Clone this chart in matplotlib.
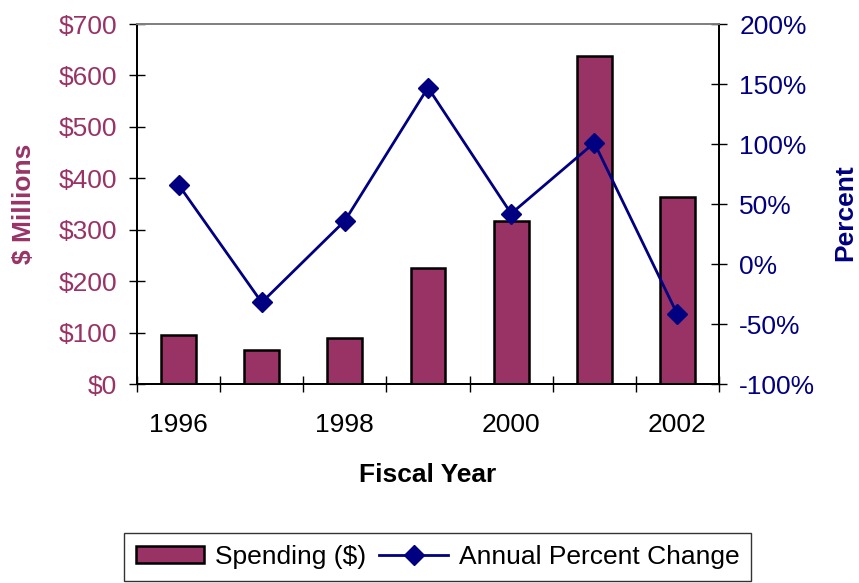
import matplotlib
matplotlib.use("Agg")
import matplotlib.pyplot as plt
from matplotlib.patches import Patch
from matplotlib.lines import Line2D
from matplotlib.ticker import FuncFormatter, FixedLocator

plt.rcParams['font.family'] = ['Liberation Sans', 'DejaVu Sans']
plt.rcParams['axes.unicode_minus'] = False

years = ["1996", "1997", "1998", "1999", "2000", "2001", "2002"]
spending = [95, 67, 90, 226, 317, 638, 364]
pct_change = [66, -32, 36, 147, 42, 101, -42]
left_ticks = [0, 100, 200, 300, 400, 500, 600, 700]
right_ticks = [-100, -50, 0, 50, 100, 150, 200]
xlabels_shown = ["1996", "1998", "2000", "2002"]

MAROON = "#993366"
NAVY = "#000080"
FS = 19

fig = plt.figure(figsize=(8.59, 5.83), dpi=100)
ax = fig.add_axes([137/859, 1 - 384/583, (719-137)/859, 360/583])
x = list(range(len(years)))
ax.bar(x, spending, width=0.42, color=MAROON, edgecolor="black", linewidth=1.8, zorder=2)
ax.set_xlim(-0.5, len(years) - 0.5)
ax.set_ylim(0, 700)
ax.set_yticks(left_ticks)
ax.yaxis.set_major_formatter(FuncFormatter(lambda v, p: f"${int(v)}"))
ax.tick_params(axis='y', direction='inout', length=11, width=1, pad=9,
               labelsize=FS, colors='black')
ax.tick_params(axis='y', labelcolor=MAROON)

# x ticks: labels at alternating categories, tick marks at category boundaries
shown_pos = [years.index(y) for y in xlabels_shown]
ax.set_xticks(shown_pos)
ax.set_xticklabels(xlabels_shown)
ax.tick_params(axis='x', which='major', length=0, pad=21, labelsize=FS)
ax.xaxis.set_minor_locator(FixedLocator([i - 0.5 for i in range(len(years) + 1)]))
ax.tick_params(axis='x', which='minor', direction='inout', length=11, width=1)

ax2 = ax.twinx()
ax2.plot(x, pct_change, color=NAVY, linewidth=2.0, marker='D', markersize=10.5,
         markerfacecolor=NAVY, markeredgecolor=NAVY, zorder=3)
ax2.set_ylim(-100, 200)
ax2.set_yticks(right_ticks)
ax2.yaxis.set_major_formatter(FuncFormatter(lambda v, p: f"{int(v)}%"))
ax2.tick_params(axis='y', direction='inout', length=11, width=1, pad=9,
                labelsize=FS, colors='black')
ax2.tick_params(axis='y', labelcolor=NAVY)

for a in (ax, ax2):
    a.spines['top'].set_color('#808080')
    a.spines['top'].set_linewidth(1.3)
    for s in ('left', 'right', 'bottom'):
        a.spines[s].set_linewidth(1.3)
        a.spines[s].set_color('black')

fig.text(24/859, 1 - 204/583, "$ Millions", rotation=90, ha='center', va='center',
         fontsize=FS, fontweight='bold', color=MAROON)
fig.text(845/859, 1 - 213/583, "Percent", rotation=90, ha='center', va='center',
         fontsize=FS, fontweight='bold', color=NAVY)
fig.text(428/859, 1 - 475/583, "Fiscal Year", ha='center', va='center',
         fontsize=FS, fontweight='bold', color='black')

handles = [Patch(facecolor=MAROON, edgecolor='black', linewidth=1.8),
           Line2D([0], [0], color=NAVY, linewidth=2.0, marker='D', markersize=10.5)]
leg = fig.legend(handles, ["Spending ($)", "Annual Percent Change"], ncol=2,
                 loc='upper left', bbox_to_anchor=(124/859, 1 - 533/583),
                 borderaxespad=0, fontsize=FS, frameon=True, fancybox=False,
                 handlelength=2.6, handleheight=0.6, handletextpad=0.4,
                 columnspacing=0.5, borderpad=0.45)
leg.get_frame().set_edgecolor('black')
leg.get_frame().set_linewidth(1.0)

fig.savefig("out.png", dpi=100)
